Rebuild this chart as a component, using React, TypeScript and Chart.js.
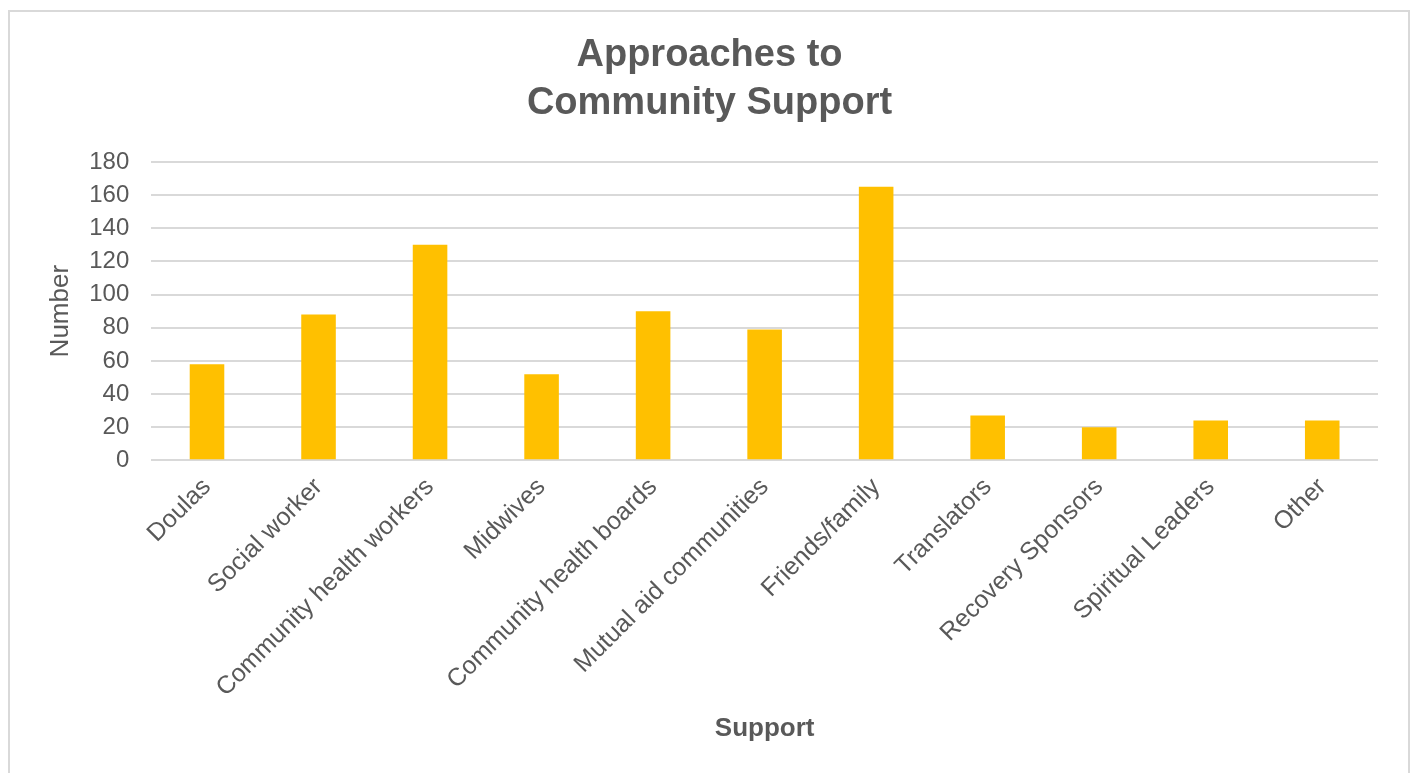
import React, { useEffect, useRef } from "react";
import { Chart, registerables } from "chart.js";

Chart.register(...registerables);

const categories = [
  "Doulas",
  "Social worker",
  "Community health workers",
  "Midwives",
  "Community health boards",
  "Mutual aid communities",
  "Friends/family",
  "Translators",
  "Recovery Sponsors",
  "Spiritual Leaders",
  "Other",
];
const counts = [58, 88, 130, 52, 90, 79, 165, 27, 20, 24, 24];
const titleLines = ["Approaches to", "Community Support"];
const yTitle = "Number";
const xTitle = "Support";

const TEXT = "#595959";
const GRID = "#d9d9d9";
const BAR = "#FFC000";
const FONT = "'Liberation Sans', Arial, sans-serif";

export default function App() {
  const ref = useRef<HTMLCanvasElement | null>(null);
  useEffect(() => {
    if (!ref.current) return;
    const chart = new Chart(ref.current, {
      type: "bar",
      data: {
        labels: categories,
        datasets: [
          {
            data: counts,
            backgroundColor: BAR,
            barPercentage: 0.31,
            categoryPercentage: 1,
          },
        ],
      },
      options: {
        animation: false,
        responsive: true,
        maintainAspectRatio: false,
        layout: { padding: { left: 31, right: 30, top: 20, bottom: 54 } },
        plugins: {
          legend: { display: false },
          tooltip: { enabled: false },
          title: {
            display: true,
            text: titleLines,
            color: TEXT,
            font: { family: FONT, size: 38, weight: "bold", lineHeight: 1.263 },
            padding: { top: 0, bottom: 34 },
          },
        },
        scales: {
          y: {
            min: 0,
            max: 180,
            ticks: {
              stepSize: 20,
              color: TEXT,
              font: { family: FONT, size: 24 },
              padding: 22,
            },
            grid: { color: GRID, lineWidth: 2, drawTicks: false },
            border: { display: false },
            title: {
              display: true,
              text: yTitle,
              color: TEXT,
              font: { family: FONT, size: 26 },
              padding: { top: 4, bottom: -9 },
            },
          },
          x: {
            ticks: {
              color: TEXT,
              font: { family: FONT, size: 25 },
              maxRotation: 45,
              minRotation: 45,
              padding: 4,
            },
            grid: { display: false },
            border: { display: false },
            title: {
              display: true,
              text: xTitle,
              color: TEXT,
              font: { family: FONT, size: 26, weight: "bold" },
              padding: { top: 6, bottom: 4 },
            },
          },
        },
      },
    });
    return () => chart.destroy();
  }, []);
  return (
    <div
      style={{
        position: "absolute",
        left: 8,
        top: 10,
        width: 1398,
        height: 790,
        border: "2px solid #d9d9d9",
        background: "#fff",
      }}
    >
      <canvas ref={ref} />
    </div>
  );
}
